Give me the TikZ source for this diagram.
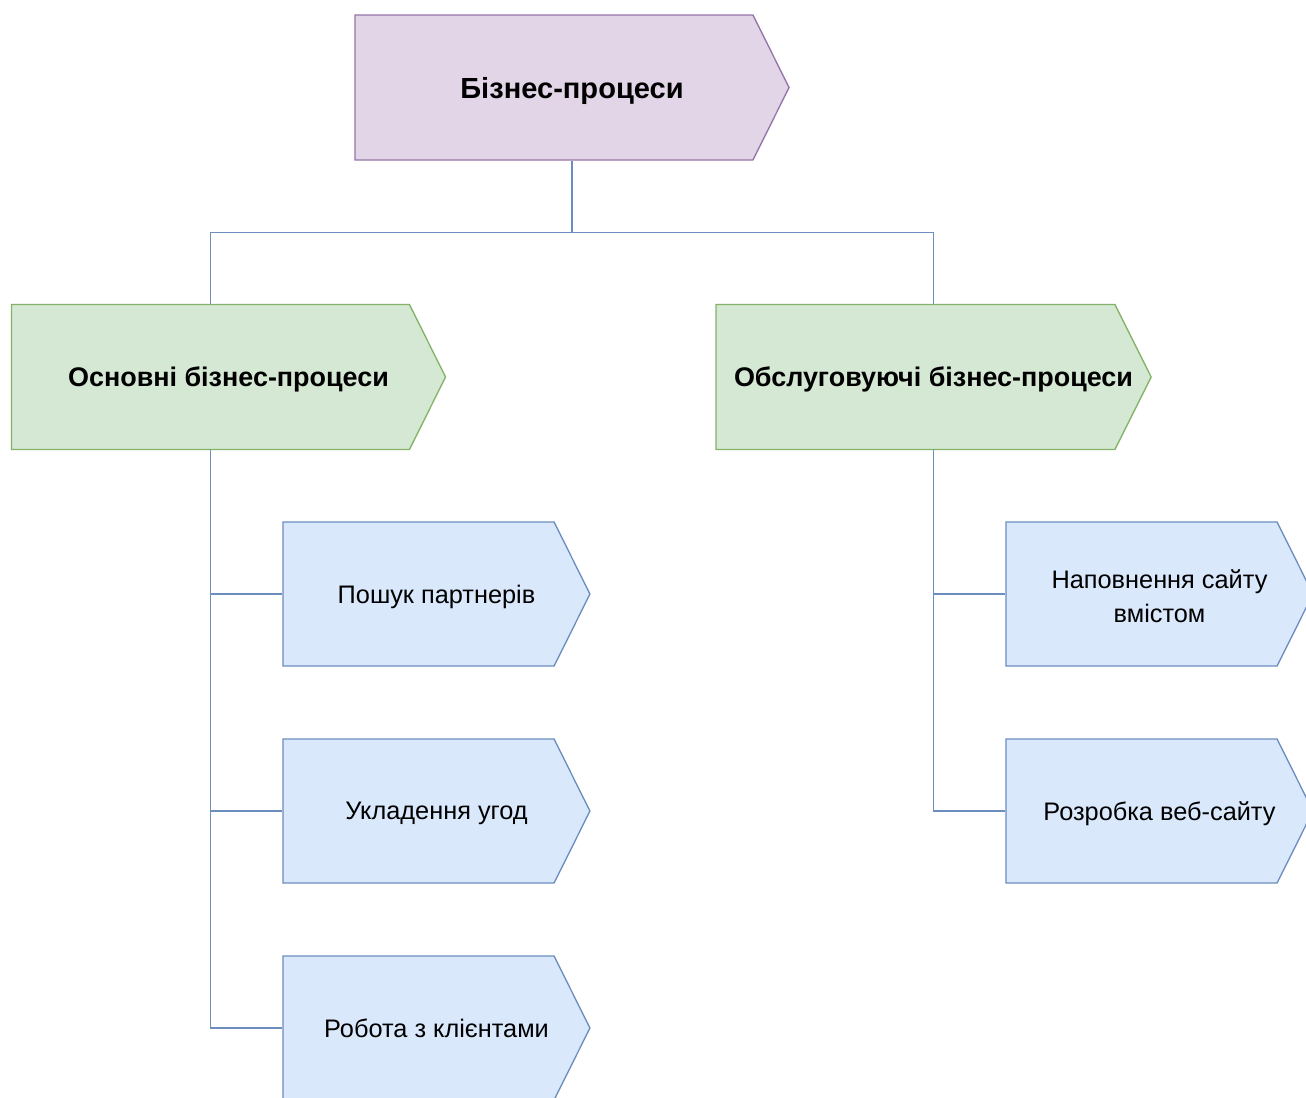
\documentclass[tikz,border=0pt]{standalone}
\usepackage{fontspec}
\setmainfont{Liberation Sans}
\usetikzlibrary{shapes.symbols}
\definecolor{rootfill}{HTML}{E1D5E7}
\definecolor{rootline}{HTML}{9673A6}
\definecolor{groupfill}{HTML}{D5E8D4}
\definecolor{groupline}{HTML}{82B366}
\definecolor{taskfill}{HTML}{DAE8FC}
\definecolor{taskline}{HTML}{6C8EBF}

\begin{document}
\begin{tikzpicture}[
                x=0.75pt, y=-0.75pt,
                every node/.style={signal, signal to=east, signal pointer angle=127,
                        line width=1pt, inner sep=0pt, text depth=0pt,
                        execute at begin node={\hspace*{13.5pt}},
                        execute at end node={\hspace*{-13.5pt}}},
                procroot/.style={draw=rootline, fill=rootfill, minimum width=325.5pt, minimum height=108.75pt,
                        font=\bfseries\fontsize{21.8}{26}\selectfont},
                procgroup/.style={draw=groupline, fill=groupfill, minimum width=325.5pt, minimum height=108.75pt,
                        font=\bfseries\fontsize{20.2}{24}\selectfont},
                proctask/.style={draw=taskline, fill=taskfill, minimum width=230.25pt, minimum height=108pt,
                        font=\fontsize{19}{25.5}\selectfont},
                link/.style={draw=taskline, line width=1pt}
            ]
            \useasboundingbox (0,0) rectangle (1306,1097);

            \node[procroot] (root) at (554,87.5) {Бізнес-процеси};

            \node[procgroup] (main) at (210.5,377) {Основні бізнес-процеси};
            \node[procgroup] (serv) at (915.5,377) {Обслуговуючі бізнес-процеси};

            \node[proctask] (partners) at (418.5,594) {Пошук партнерів};
            \node[proctask] (deals) at (418.5,811) {Укладення угод};
            \node[proctask] (clients) at (418.5,1028) {Робота з клієнтами};

            \node[proctask, text depth=13.5pt] (content) at (1141.5,594)
                {\begin{tabular}{@{}c@{}}Наповнення сайту\\вмістом\end{tabular}};
            \node[proctask] (website) at (1141.5,811) {Розробка веб-сайту};

            % root to groups
            \coordinate (rootout) at ([shift={(18,0)}]root.south);
            \coordinate (fork) at ([shift={(0,72)}]rootout);
            \coordinate (servin) at ([shift={(18,0)}]serv.north);
            \draw[link] (rootout) -- (fork);
            \draw[link] (fork) -| (main.north);
            \draw[link] (fork) -| (servin);

            % main processes
            \draw[link] (main.south) |- (clients.west);
            \draw[link] (partners.west) -- (partners.west -| main.south);
            \draw[link] (deals.west) -- (deals.west -| main.south);

            % service processes
            \coordinate (servout) at ([shift={(18,0)}]serv.south);
            \draw[link] (servout) |- (website.west);
            \draw[link] (content.west) -- (content.west -| servout);

        \end{tikzpicture}
\end{document}
